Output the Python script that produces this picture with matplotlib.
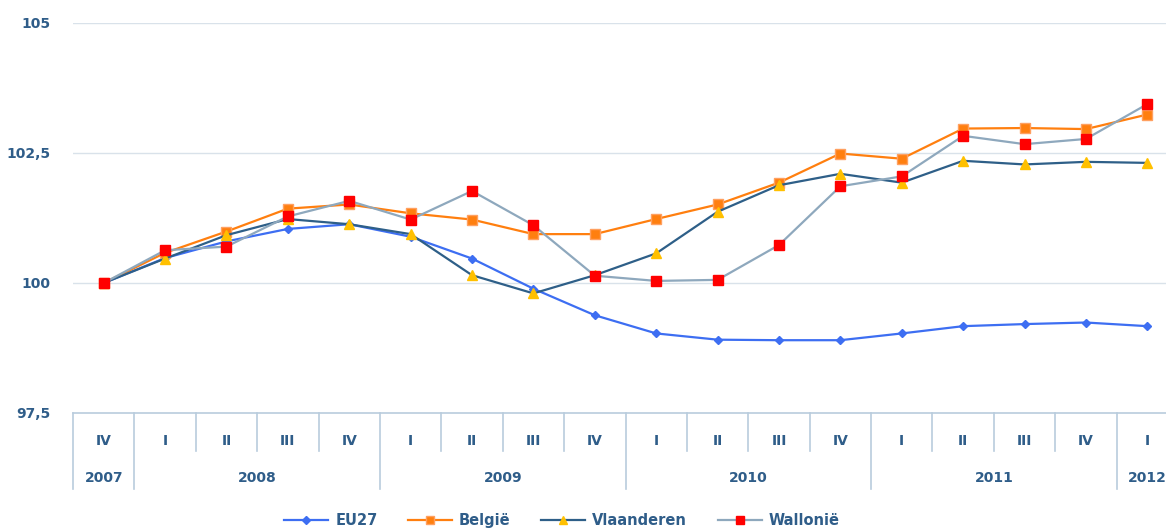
import matplotlib
matplotlib.use("Agg")
import matplotlib.pyplot as plt

quarters = ["IV", "I", "II", "III", "IV", "I", "II", "III", "IV",
            "I", "II", "III", "IV", "I", "II", "III", "IV", "I"]
years = ["2007", "2008", "2009", "2010", "2011", "2012"]
year_counts = [1, 4, 4, 4, 4, 1]

eu27 = [100.00, 100.48, 100.80, 101.04, 101.13, 100.89, 100.47, 99.89, 99.38,
        99.03, 98.91, 98.90, 98.90, 99.03, 99.17, 99.21, 99.24, 99.17]
belgie = [100.00, 100.58, 100.99, 101.43, 101.51, 101.34, 101.22, 100.94, 100.94,
          101.23, 101.51, 101.93, 102.49, 102.39, 102.97, 102.98, 102.96, 103.24]
vlaanderen = [100.00, 100.47, 100.92, 101.23, 101.13, 100.94, 100.15, 99.80, 100.15,
              100.57, 101.37, 101.88, 102.10, 101.93, 102.35, 102.28, 102.33, 102.31]
wallonie = [100.00, 100.63, 100.70, 101.28, 101.58, 101.22, 101.77, 101.11, 100.14,
            100.04, 100.06, 100.73, 101.86, 102.05, 102.83, 102.67, 102.77, 103.44]

yticks = [97.5, 100, 102.5, 105]
ytick_labels = ["97,5", "100", "102,5", "105"]

TXT = "#2F5D89"
GRID = "#D9E2EA"
AXC = "#B9CCDD"

fig = plt.figure(figsize=(11.66, 5.31), dpi=100)
W, H = 1166, 531
left_px, right_px, top_px, bot_px = 73, 1178, 23, 413
ax = fig.add_axes([left_px / W, 1 - bot_px / H, (right_px - left_px) / W, (bot_px - top_px) / H])

x = list(range(len(quarters)))
l1, = ax.plot(x, eu27, color="#3D6EF2", lw=1.6, marker="D", ms=4.5, mfc="#3D6EF2", mec="#3D6EF2", zorder=3)
l2, = ax.plot(x, belgie, color="#FF7F0F", lw=1.6, marker="s", ms=7, mfc="#FF7F0F", mec="#FFA060", zorder=3)
l3, = ax.plot(x, vlaanderen, color="#2E5F88", lw=1.6, marker="^", ms=7.5, mfc="#FFC000", mec="#FFC000", zorder=4)
l4, = ax.plot(x, wallonie, color="#8EA8BD", lw=1.6, marker="s", ms=7, mfc="#FF0000", mec="#FF0000", zorder=5)

ax.set_xlim(-0.5, len(quarters) - 0.5)
ax.set_ylim(97.5, 105)
ax.set_yticks(yticks)
ax.set_yticklabels(ytick_labels)
for t in ax.get_yticklabels():
    t.set_fontweight("bold")
    t.set_color(TXT)
    t.set_fontsize(10)
ax.tick_params(axis="y", length=0, pad=16)
ax.set_xticks([])
for v in yticks[1:]:
    ax.axhline(v, color=GRID, lw=1, zorder=1)
for s in ["top", "right", "left"]:
    ax.spines[s].set_visible(False)
ax.spines["bottom"].set_color(AXC)
ax.spines["bottom"].set_linewidth(1.2)

trans = ax.get_xaxis_transform()
ah = bot_px - top_px
q_y = -(441 - bot_px) / ah
y_y = -(478 - bot_px) / ah
short_end = -(451 - bot_px) / ah
long_end = -(489 - bot_px) / ah

for i, q in enumerate(quarters):
    ax.text(i, q_y, q, transform=trans, ha="center", va="center",
            fontsize=10, fontweight="bold", color=TXT, clip_on=False)

bounds = [0]
for c in year_counts:
    bounds.append(bounds[-1] + c)
year_bounds = set(bounds)
for b in range(len(quarters) + 1):
    end = long_end if b in year_bounds else short_end
    ax.plot([b - 0.5, b - 0.5], [0, end], transform=trans, color=AXC, lw=1.2, clip_on=False)

for k, yr in enumerate(years):
    center = (bounds[k] + bounds[k + 1]) / 2 - 0.5
    ax.text(center, y_y, yr, transform=trans, ha="center", va="center",
            fontsize=10, fontweight="bold", color=TXT, clip_on=False)

leg = fig.legend([l1, l2, l3, l4], ["EU27", "België", "Vlaanderen", "Wallonië"],
                 loc="center", bbox_to_anchor=(0.482, 0.02), ncol=4, frameon=False,
                 handlelength=3.0, columnspacing=2.1, handletextpad=0.5, markerscale=0.8,
                 prop={"weight": "bold", "size": 10.5})
for t in leg.get_texts():
    t.set_color(TXT)

fig.savefig("out.png", dpi=100)
